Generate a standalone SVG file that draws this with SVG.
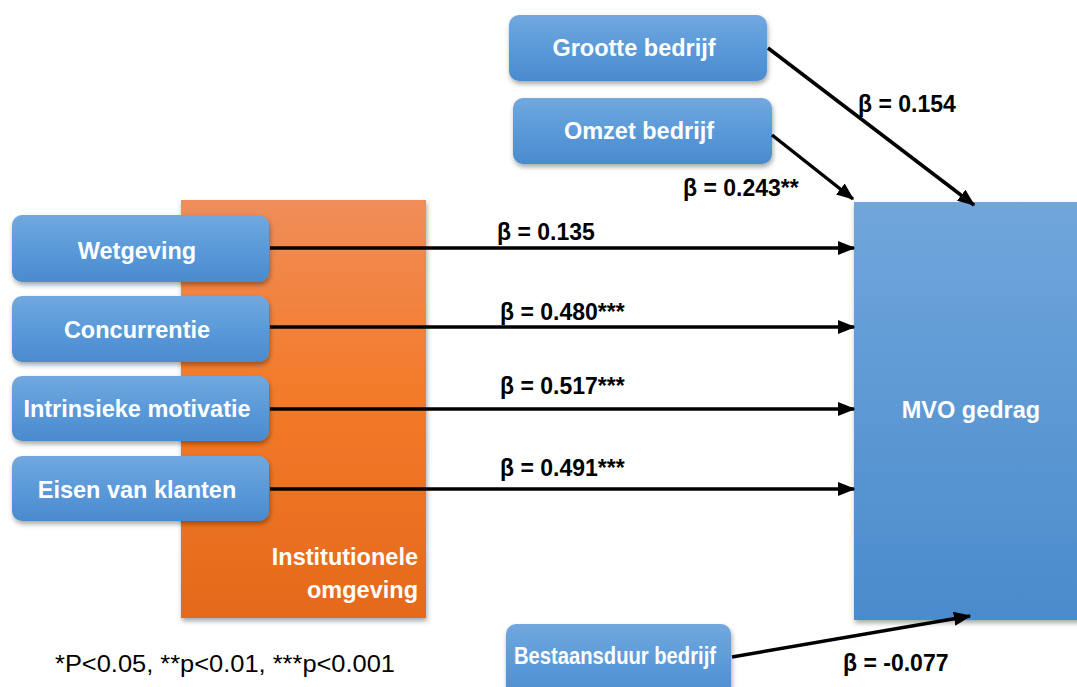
<svg xmlns="http://www.w3.org/2000/svg" width="1077" height="687" viewBox="0 0 1077 687">
<style>
.box{fill:url(#gBlue);filter:url(#sh)}
.bt{font-family:"Liberation Sans",Arial,sans-serif;font-weight:bold;font-size:23.5px;fill:#fff;text-anchor:middle}
.lbl{font-family:"Liberation Sans",Arial,sans-serif;font-weight:bold;font-size:23px;fill:#000}
.con{stroke:#000;stroke-width:3.5;fill:none;marker-end:url(#ah)}
</style>
<defs>
<linearGradient id="gBlue" x1="0" y1="0" x2="0" y2="1"><stop offset="0" stop-color="#72a8de"/><stop offset="0.5" stop-color="#5a9ad9"/><stop offset="1" stop-color="#4a8bcd"/></linearGradient>
<linearGradient id="gMvo" x1="0" y1="0" x2="0" y2="1"><stop offset="0" stop-color="#70a6db"/><stop offset="1" stop-color="#4a8bcc"/></linearGradient>
<linearGradient id="gOr" x1="0" y1="0" x2="0" y2="1"><stop offset="0" stop-color="#f08d5a"/><stop offset="0.45" stop-color="#f37b2a"/><stop offset="1" stop-color="#e46a1b"/></linearGradient>
<filter id="sh" x="-10%" y="-10%" width="130%" height="140%"><feDropShadow dx="1" dy="3" stdDeviation="2.5" flood-color="#000" flood-opacity="0.35"/></filter>
<marker id="ah" markerWidth="5" markerHeight="4" refX="4.6" refY="2" orient="auto" markerUnits="strokeWidth"><path d="M0,0 L5,2 L0,4 Z" fill="#000"/></marker>
</defs>
<rect width="1077" height="687" fill="#fff"/>
<g id="institutionele">
<rect x="181" y="200" width="245" height="418" fill="url(#gOr)" filter="url(#sh)"/>
<text class="bt" x="418" y="565" style="text-anchor:end">Institutionele</text>
<text class="bt" x="418" y="598" style="text-anchor:end">omgeving</text>
</g>
<g id="mvo">
<rect x="854" y="202" width="230" height="418" fill="url(#gMvo)" filter="url(#sh)"/>
<text class="bt" x="971" y="418">MVO gedrag</text>
</g>
<g id="grootte"><rect class="box" x="509" y="15" width="258" height="66" rx="10"/><text class="bt" x="634" y="56">Grootte bedrijf</text></g>
<g id="omzet"><rect class="box" x="513" y="98" width="259" height="66" rx="10"/><text class="bt" x="639" y="139">Omzet bedrijf</text></g>
<g id="wetgeving"><rect class="box" x="12" y="215" width="257" height="67" rx="10"/><text class="bt" x="137" y="259">Wetgeving</text></g>
<g id="concurrentie"><rect class="box" x="12" y="296" width="257" height="66" rx="10"/><text class="bt" x="137" y="338">Concurrentie</text></g>
<g id="intrinsiek"><rect class="box" x="12" y="376" width="257" height="65" rx="10"/><text class="bt" x="137" y="417">Intrinsieke motivatie</text></g>
<g id="eisen"><rect class="box" x="12" y="456" width="257" height="65" rx="10"/><text class="bt" x="137" y="498">Eisen van klanten</text></g>
<g id="bestaansduur"><rect class="box" x="506" y="624" width="225" height="80" rx="10"/><text class="bt" x="615" y="664" textLength="202" lengthAdjust="spacingAndGlyphs">Bestaansduur bedrijf</text></g>
<g id="connectors">
<line class="con" x1="768" y1="48" x2="974" y2="205"/>
<line class="con" x1="772" y1="135" x2="853" y2="199"/>
<line class="con" x1="270" y1="248" x2="854" y2="248"/>
<line class="con" x1="270" y1="327" x2="854" y2="327"/>
<line class="con" x1="270" y1="409" x2="854" y2="409"/>
<line class="con" x1="270" y1="489" x2="854" y2="489"/>
<line class="con" x1="732" y1="657" x2="970" y2="616"/>
</g>
<g id="labels">
<text class="lbl" x="858" y="112">β = 0.154</text>
<text class="lbl" x="683" y="196">β = 0.243**</text>
<text class="lbl" x="497" y="240">β = 0.135</text>
<text class="lbl" x="500" y="320">β = 0.480***</text>
<text class="lbl" x="500" y="394">β = 0.517***</text>
<text class="lbl" x="500" y="476">β = 0.491***</text>
<text class="lbl" x="843" y="671">β = -0.077</text>
<text x="55" y="672" font-family="'Liberation Sans',Arial,sans-serif" font-size="23" textLength="340" lengthAdjust="spacingAndGlyphs" fill="#000">*P&lt;0.05, **p&lt;0.01, ***p&lt;0.001</text>
</g>
</svg>
